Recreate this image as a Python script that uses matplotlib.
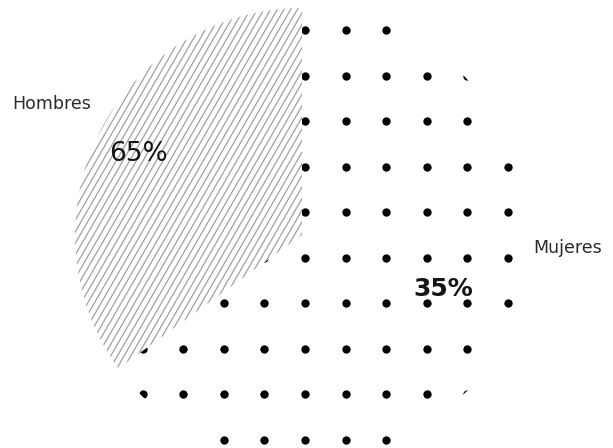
import numpy as np
import matplotlib
matplotlib.use("Agg")
import matplotlib.pyplot as plt
from matplotlib.collections import LineCollection

# Data
categories = ["Hombres", "Mujeres"]
shares = [65, 35]

W, H = 613, 448
fig = plt.figure(figsize=(W / 100, H / 100), dpi=100)
ax = fig.add_axes([0, 0, 1, 1])

cx, cy, R = 302, H - 235, 227

wedges, _ = ax.pie(
    shares,
    startangle=90,
    counterclock=False,
    center=(cx, cy),
    radius=R,
    colors=["white", "white"],
    wedgeprops=dict(edgecolor="none", linewidth=0),
)
ax.set_xlim(0, W)
ax.set_ylim(0, H)
ax.set_aspect("equal")
ax.axis("off")

dots_wedge, lines_wedge = wedges

# Dotted fill: regular grid of round dots clipped to the first wedge
gx = 305 + 40.6 * np.arange(-6, 7)
gy = 30 + 45.55 * np.arange(-1, 11)
XX, YY = np.meshgrid(gx, gy)
sc = ax.scatter(XX.ravel(), H - YY.ravel(), s=36, color="black",
                linewidths=0, zorder=3)
sc.set_clip_path(dots_wedge)

# Diagonal line fill clipped to the second wedge
ang = np.deg2rad(60)
d = np.array([np.cos(ang), np.sin(ang)])
n = np.array([-np.sin(ang), np.cos(ang)])
segs = []
for t in np.arange(-R - 10, R + 10, 5.8):
    p = np.array([cx, cy]) + t * n
    segs.append([p - (R + 20) * d, p + (R + 20) * d])
lc = LineCollection(segs, colors="#a0a0a0", linewidths=0.9, zorder=3)
ax.add_collection(lc)
lc.set_clip_path(lines_wedge)

# Labels
ax.text(52, H - 109, categories[0], ha="center", va="baseline",
        fontsize=12.5, color="#2a2a2a", family="DejaVu Sans", zorder=5)
ax.text(568, H - 253, categories[1], ha="center", va="baseline",
        fontsize=12.5, color="#2a2a2a", family="DejaVu Sans", zorder=5)
ax.text(138.5, H - 161, f"{shares[0]}%", ha="center", va="baseline",
        fontsize=19, color="#151515", family="DejaVu Sans", zorder=5)
ax.text(443.5, H - 296, f"{shares[1]}%", ha="center", va="baseline",
        fontsize=18, fontweight="bold", color="#151515",
        family="DejaVu Sans", zorder=5)

fig.savefig("out.png", dpi=100, facecolor="white")
